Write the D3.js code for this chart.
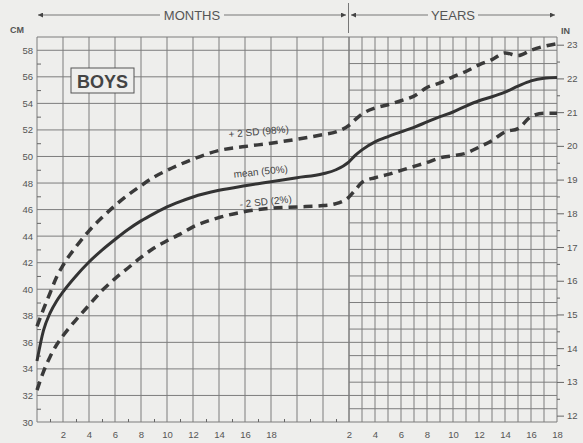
<!DOCTYPE html>
<meta charset="utf-8">
<script src="https://d3js.org/d3.v7.min.js"></script>
<style>
  body { margin: 0; background: #eeeeec; }
  svg { display: block; font-family: "Liberation Sans", Arial, sans-serif; }
  .axis path { display: none; }
  .axis text { fill: #555; font-size: 9.5px; }
  .axis line { stroke: #666; }
</style>
<body>
<div id="chart"></div>
<script>
// head circumference, boys (cm)
var ageMonths = [0, 0.5, 1, 1.5, 2, 3, 4, 5, 6, 7, 8, 9, 10, 11, 12, 14, 16, 18, 20, 22, 23, 24];
var meanMonths = [34.6, 36.9, 38.2, 39.1, 39.8, 41.0, 42.05, 42.95, 43.75, 44.5, 45.15, 45.7, 46.2, 46.6, 46.95, 47.45, 47.8, 48.1, 48.4, 48.7, 49.0, 49.6];
var upperMonths = [37.2, 38.5, 39.7, 40.9, 41.8, 43.2, 44.4, 45.4, 46.3, 47.1, 47.8, 48.45, 48.95, 49.4, 49.8, 50.45, 50.75, 51.0, 51.3, 51.65, 51.85, 52.35];
var lowerMonths = [32.4, 33.8, 34.9, 35.8, 36.5, 37.7, 38.8, 39.9, 40.8, 41.6, 42.4, 43.1, 43.65, 44.15, 44.7, 45.4, 45.85, 46.1, 46.2, 46.3, 46.45, 46.95];

var ageYears = [2, 2.5, 3, 4, 5, 6, 7, 8, 9, 10, 11, 12, 13, 14, 15, 16, 17, 18];
var meanYears = [49.6, 50.1, 50.5, 51.1, 51.5, 51.85, 52.2, 52.6, 53.0, 53.35, 53.8, 54.2, 54.5, 54.85, 55.3, 55.7, 55.9, 55.95];
var upperYears = [52.35, 52.8, 53.2, 53.65, 53.9, 54.2, 54.55, 55.2, 55.55, 56.0, 56.4, 56.9, 57.3, 57.8, 57.6, 58.0, 58.3, 58.5];
var lowerYears = [46.95, 47.5, 48.05, 48.4, 48.65, 48.95, 49.25, 49.55, 49.9, 50.05, 50.25, 50.7, 51.2, 51.85, 52.1, 53.0, 53.25, 53.25];

var cmTicks = d3.range(30, 59, 2);
var inTicks = d3.range(12, 24, 1);
var monthLabels = [2, 4, 6, 8, 10, 12, 14, 16, 18];
var yearLabels = [2, 4, 6, 8, 10, 12, 14, 16, 18];

var W = 583, H = 443;
var pL = 37, pR = 557, pT = 37, pB = 422;

var svg = d3.select("#chart").append("svg")
    .attr("width", W)
    .attr("height", H);

var xM = d3.scaleLinear().domain([0, 24]).range([pL, 349]);
var xY = d3.scaleLinear().domain([2, 18]).range([349, pR]);
var y = d3.scaleLinear().domain([30, 59]).range([pB, pT]);
var yIn = d3.scaleLinear().domain([30 / 2.54, 59 / 2.54]).range([pB, pT]);

var gridColor = "#7d7d7d";

// grid - months part (2 month x 2 cm)
svg.append("g").selectAll("line")
  .data(d3.range(0, 25, 2))
  .enter().append("line")
    .attr("x1", function(d) { return xM(d); })
    .attr("x2", function(d) { return xM(d); })
    .attr("y1", pT).attr("y2", pB)
    .attr("stroke", gridColor).attr("stroke-width", 1);
svg.append("g").selectAll("line")
  .data(d3.range(30, 60, 2).concat([59]))
  .enter().append("line")
    .attr("x1", pL).attr("x2", xM(24))
    .attr("y1", function(d) { return y(d); })
    .attr("y2", function(d) { return y(d); })
    .attr("stroke", gridColor).attr("stroke-width", 1);

// grid - years part (1 year x 1 cm)
svg.append("g").selectAll("line")
  .data(d3.range(2, 19, 1))
  .enter().append("line")
    .attr("x1", function(d) { return xY(d); })
    .attr("x2", function(d) { return xY(d); })
    .attr("y1", pT).attr("y2", pB)
    .attr("stroke", gridColor).attr("stroke-width", 1);
svg.append("g").selectAll("line")
  .data(d3.range(30, 60, 1))
  .enter().append("line")
    .attr("x1", xY(2)).attr("x2", pR)
    .attr("y1", function(d) { return y(d); })
    .attr("y2", function(d) { return y(d); })
    .attr("stroke", gridColor).attr("stroke-width", 1);

// axes
svg.append("g")
    .attr("class", "axis")
    .attr("transform", "translate(" + (pL - 2) + ",0)")
    .call(d3.axisLeft(y).tickValues(cmTicks).tickSize(0).tickPadding(2));
svg.append("g")
    .attr("class", "axis")
    .attr("transform", "translate(" + pL + ",0)")
    .call(d3.axisRight(y).tickValues(d3.range(31, 59, 2)).tickSize(4).tickFormat(""));
svg.append("g")
    .attr("class", "axis")
    .attr("transform", "translate(0," + pB + ")")
    .call(d3.axisTop(xM).tickValues(d3.range(1, 24, 2)).tickSize(3).tickFormat(""));
svg.append("g")
    .attr("class", "axis")
    .attr("transform", "translate(0," + (pB + 6) + ")")
    .call(d3.axisBottom(xM).tickValues(monthLabels).tickSize(0));
svg.append("g")
    .attr("class", "axis")
    .attr("transform", "translate(0," + (pB + 6) + ")")
    .call(d3.axisBottom(xY).tickValues(yearLabels).tickSize(0));
svg.append("g")
    .attr("class", "axis")
    .attr("transform", "translate(" + pR + ",0)")
    .call(d3.axisRight(yIn).tickValues(inTicks).tickSize(7).tickPadding(3));
svg.append("g")
    .attr("class", "axis")
    .attr("transform", "translate(" + pR + ",0)")
    .call(d3.axisRight(yIn).tickValues(d3.range(12.5, 23, 1)).tickSize(3).tickFormat(""));

svg.append("text").attr("x", 10).attr("y", 33)
    .style("font-size", "9px").style("font-weight", "bold").attr("fill", "#555").text("CM");
svg.append("text").attr("x", 561).attr("y", 34)
    .style("font-size", "9px").style("font-weight", "bold").attr("fill", "#555").text("IN");

// header with arrows
svg.append("defs").append("marker")
    .attr("id", "arr")
    .attr("viewBox", "0 0 10 10")
    .attr("refX", 10).attr("refY", 5)
    .attr("markerWidth", 7).attr("markerHeight", 5)
    .attr("markerUnits", "userSpaceOnUse")
    .attr("orient", "auto-start-reverse")
  .append("path").attr("d", "M0,0L10,5L0,10z").attr("fill", "#444");

var hy = 15;
function arrowLine(x1, x2, a, b) {
  var l = svg.append("line").attr("x1", x1).attr("x2", x2).attr("y1", hy).attr("y2", hy)
      .attr("stroke", "#777").attr("stroke-width", 1);
  if (a) l.attr("marker-start", "url(#arr)");
  if (b) l.attr("marker-end", "url(#arr)");
}
arrowLine(38, 160, true, false);
arrowLine(224, 346, false, true);
arrowLine(351, 428, true, false);
arrowLine(478, 555, false, true);
svg.append("line").attr("x1", 348.5).attr("x2", 348.5).attr("y1", 3).attr("y2", 33)
    .attr("stroke", "#777");
svg.append("text").attr("x", 192).attr("y", 20).attr("text-anchor", "middle")
    .style("font-size", "13px").attr("fill", "#555").text("MONTHS");
svg.append("text").attr("x", 453).attr("y", 20).attr("text-anchor", "middle")
    .style("font-size", "13px").attr("fill", "#555").text("YEARS");

// BOYS label
svg.append("rect").attr("x", 71).attr("y", 68).attr("width", 63).attr("height", 25)
    .attr("fill", "#eeeeec").attr("stroke", "#555").attr("stroke-width", 1);
svg.append("text").attr("x", 102.5).attr("y", 87.5).attr("text-anchor", "middle")
    .style("font-size", "18px").style("font-weight", "bold").attr("fill", "#444").text("BOYS");

// curves
function pts(mv, yv) {
  return ageMonths.map(function(a, i) { return [xM(a), y(mv[i])]; })
    .concat(ageYears.slice(1).map(function(a, i) { return [xY(a), y(yv[i + 1])]; }));
}
var line = d3.line().curve(d3.curveMonotoneX);

svg.append("path").attr("d", line(pts(upperMonths, upperYears)))
    .attr("fill", "none").attr("stroke", "#3a3a3a").attr("stroke-width", 3.5)
    .attr("stroke-dasharray", "9,6");
svg.append("path").attr("d", line(pts(lowerMonths, lowerYears)))
    .attr("fill", "none").attr("stroke", "#3a3a3a").attr("stroke-width", 3.5)
    .attr("stroke-dasharray", "9,6");
svg.append("path").attr("d", line(pts(meanMonths, meanYears)))
    .attr("fill", "none").attr("stroke", "#333").attr("stroke-width", 3);

// curve labels
function curveLabel(txt, x, yy, rot) {
  svg.append("text")
      .attr("transform", "translate(" + x + "," + yy + ")rotate(" + rot + ")")
      .attr("text-anchor", "middle")
      .style("font-size", "10px").attr("fill", "#444")
      .text(txt);
}
curveLabel("+ 2 SD (98%)", 259, 135, -5);
curveLabel("mean (50%)", 261, 175, -6);
curveLabel("- 2 SD (2%)", 266, 205, -6);
</script>
</body>
